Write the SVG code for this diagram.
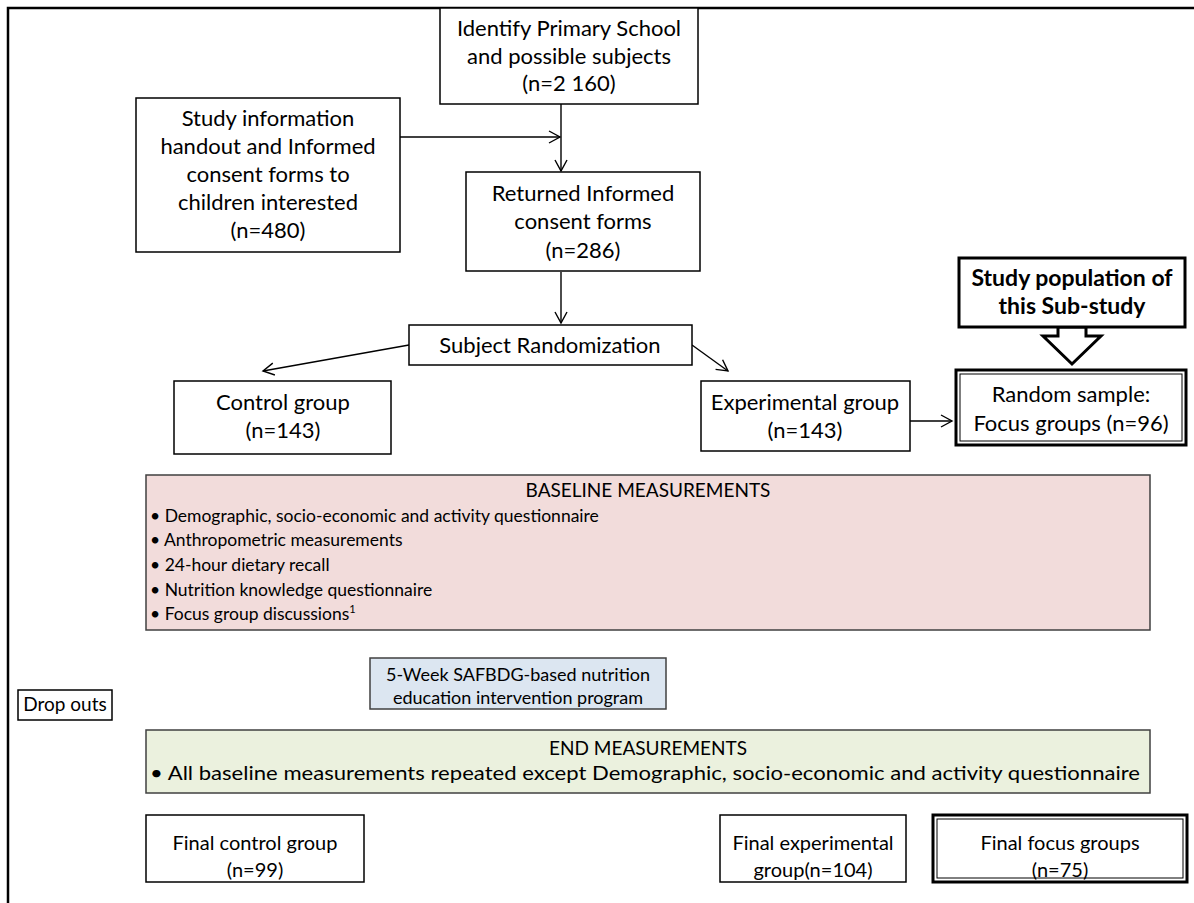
<svg xmlns="http://www.w3.org/2000/svg" width="1194" height="903" viewBox="0 0 1194 903">
<defs>
<marker id="arr" markerUnits="userSpaceOnUse" markerWidth="14" markerHeight="14" viewBox="0 0 14 14" refX="12" refY="7" orient="auto">
<path d="M1,1 L12,7 L1,13" fill="none" stroke="#000" stroke-width="1.4"/>
</marker>
<style>
text{font-family:Lato,"Open Sans","Liberation Sans",sans-serif;font-size:22px;fill:#000}
.c{text-anchor:middle}
.b{font-weight:bold;font-size:23px}
.s{font-size:17.5px}
.m{font-size:19px}
.w{font-size:18px}
.f{font-size:20px}
.box{fill:#fff;stroke:#000;stroke-width:1.5}
.con{fill:none;stroke:#000;stroke-width:1.4}
</style>
</defs>
<rect width="1194" height="903" fill="#fff"/>
<polyline points="8,903 8,8 1194,8" fill="none" stroke="#000" stroke-width="2.5"/>

<g id="connectors">
<line class="con" x1="400" y1="137" x2="560" y2="137" marker-end="url(#arr)"/>
<line class="con" x1="561" y1="104" x2="561" y2="171" marker-end="url(#arr)"/>
<line class="con" x1="561" y1="272" x2="561" y2="323" marker-end="url(#arr)"/>
<line class="con" x1="409" y1="345" x2="263" y2="371" marker-end="url(#arr)"/>
<line class="con" x1="692" y1="345" x2="728" y2="371" marker-end="url(#arr)"/>
<line class="con" x1="910" y1="421" x2="952" y2="421" marker-end="url(#arr)"/>
<polygon points="1058,327 1058,336 1043,336 1072,364 1101,336 1086,336 1086,327" fill="#fff" stroke="#000" stroke-width="3" stroke-linejoin="miter"/>
</g>

<g id="identify">
<rect class="box" x="440" y="8" width="258" height="96"/>
<text class="c" x="569" y="36">Identify Primary School</text>
<text class="c" x="569" y="64">and possible subjects</text>
<text class="c" x="569" y="91">(n=2 160)</text>
</g>

<g id="handout">
<rect class="box" x="136" y="98" width="264" height="154"/>
<text class="c" x="268" y="126">Study information</text>
<text class="c" x="268" y="154">handout and Informed</text>
<text class="c" x="268" y="182">consent forms to</text>
<text class="c" x="268" y="210">children interested</text>
<text class="c" x="268" y="238">(n=480)</text>
</g>

<g id="returned">
<rect class="box" x="466" y="172" width="234" height="99"/>
<text class="c" x="583" y="201">Returned Informed</text>
<text class="c" x="583" y="229">consent forms</text>
<text class="c" x="583" y="258">(n=286)</text>
</g>

<g id="randomization">
<rect class="box" x="409" y="325" width="283" height="40"/>
<text class="c" x="550" y="353">Subject Randomization</text>
</g>

<g id="control">
<rect class="box" x="174" y="381" width="217" height="73"/>
<text class="c" x="283" y="410">Control group</text>
<text class="c" x="283" y="438">(n=143)</text>
</g>

<g id="experimental">
<rect class="box" x="701" y="381" width="209" height="70"/>
<text class="c" x="805" y="410">Experimental group</text>
<text class="c" x="805" y="438">(n=143)</text>
</g>

<g id="study-population">
<rect x="959" y="258" width="226" height="69" fill="#fff" stroke="#000" stroke-width="3"/>
<text class="c b" x="1072" y="286">Study population of</text>
<text class="c b" x="1072" y="314">this Sub-study</text>
</g>

<g id="random-sample">
<rect x="956" y="370" width="230" height="75" fill="#fff" stroke="#000" stroke-width="3"/>
<rect x="960" y="374" width="222" height="67" fill="none" stroke="#000" stroke-width="1"/>
<text class="c" x="1071" y="402">Random sample:</text>
<text class="c" x="1071" y="431">Focus groups (n=96)</text>
</g>

<g id="baseline">
<rect x="146" y="475" width="1004" height="155" fill="#f2dcdb" stroke="#404040" stroke-width="1.5"/>
<text class="c m" x="648" y="497">BASELINE MEASUREMENTS</text>
<text class="s" x="150" y="522">• Demographic, socio-economic and activity questionnaire</text>
<text class="s" x="150" y="546">• Anthropometric measurements</text>
<text class="s" x="150" y="571">• 24-hour dietary recall</text>
<text class="s" x="150" y="596">• Nutrition knowledge questionnaire</text>
<text class="s" x="150" y="620">• Focus group discussions<tspan font-size="11" dy="-7">1</tspan></text>
</g>

<g id="dropouts">
<rect class="box" x="18" y="690" width="94" height="30"/>
<text class="c m" x="65" y="711">Drop outs</text>
</g>

<g id="intervention">
<rect x="370" y="658" width="296" height="51" fill="#dce6f1" stroke="#404040" stroke-width="1.5"/>
<text class="c w" x="518" y="681">5-Week SAFBDG-based nutrition</text>
<text class="c w" x="518" y="704">education intervention program</text>
</g>

<g id="end">
<rect x="146" y="730" width="1004" height="63" fill="#ebf1de" stroke="#404040" stroke-width="1.5"/>
<text class="c m" x="648" y="755">END MEASUREMENTS</text>
<text class="m" x="150" y="780" textLength="990" lengthAdjust="spacingAndGlyphs">• All baseline measurements repeated except  Demographic, socio-economic and activity questionnaire</text>
</g>

<g id="final-control">
<rect class="box" x="146" y="815" width="218" height="67"/>
<text class="c f" x="255" y="850">Final control group</text>
<text class="c f" x="255" y="877">(n=99)</text>
</g>

<g id="final-experimental">
<rect class="box" x="720" y="815" width="186" height="67"/>
<text class="c f" x="813" y="850">Final experimental</text>
<text class="c f" x="813" y="877">group(n=104)</text>
</g>

<g id="final-focus">
<rect x="933" y="815" width="254" height="67" fill="#fff" stroke="#000" stroke-width="3"/>
<rect x="937" y="819" width="246" height="59" fill="none" stroke="#000" stroke-width="1"/>
<text class="c f" x="1060" y="850">Final focus groups</text>
<text class="c f" x="1060" y="877">(n=75)</text>
</g>
</svg>
